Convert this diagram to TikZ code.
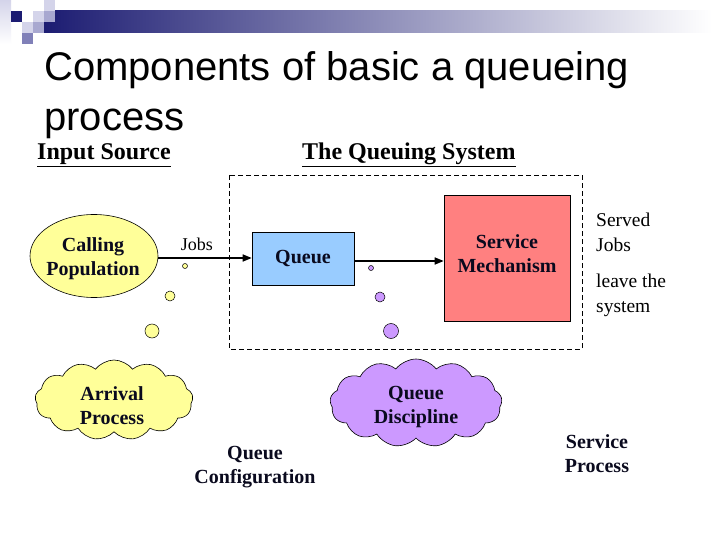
\documentclass[tikz,border=0pt]{standalone}
\usepackage{fontspec}
\setmainfont{Liberation Serif}
\newfontfamily\titlefont{Liberation Sans}
\usetikzlibrary{shapes.symbols,shapes.geometric,arrows.meta}
\definecolor{navyb}{HTML}{1C1C72}
\definecolor{lav1}{HTML}{D4D4EA}
\definecolor{lav2}{HTML}{A8A8D0}
\definecolor{lav3}{HTML}{8080B8}
\definecolor{popyellow}{HTML}{FFFF99}
\definecolor{qblue}{HTML}{99CCFF}
\definecolor{smred}{HTML}{FF8080}
\definecolor{purp}{HTML}{CC99FF}
\definecolor{inkd}{HTML}{0A0A1E}
\tikzset{
  lbl/.style={font=\fontsize{20}{24}\selectfont\bfseries, text=inkd, align=center, inner sep=0pt},
  plain/.style={font=\fontsize{19.5}{25}\selectfont, align=left, inner sep=0pt},
  head/.style={font=\fontsize{24}{28}\selectfont\bfseries, inner sep=0pt},
  flow/.style={line width=1.6pt, -{Triangle[length=9pt,width=7pt]}},
  boxst/.style={draw, line width=0.6pt, inner sep=0pt},
  cloudst/.style={cloud, draw, line width=0.6pt, cloud puffs=13, cloud puff arc=105, aspect=2, inner sep=0pt},
  dot/.style={circle, draw, line width=0.5pt, inner sep=0pt},
}
\begin{document}
\begin{tikzpicture}[x=1pt,y=-1pt]
\useasboundingbox (0,0) rectangle (720,540);
\fill[white] (0,0) rectangle (720,540);
% header decoration
\shade[left color=navyb, right color=white] (44,11) rectangle (712,33);
\shade[top color=lav1, bottom color=white] (0,0) rectangle (11,44);
\fill[navyb] (11,11) rectangle (22,22);
\fill[lav1] (33,11) rectangle (44,22);
\fill[lav1] (44,0) rectangle (55,11);
\fill[lav2] (44,11) rectangle (55,22);
\fill[lav1] (22,22) rectangle (33,33);
\fill[lav2] (33,22) rectangle (44,33);
\fill[lav3] (22,33) rectangle (33,44);
% title
\node[anchor=base west, inner sep=0pt, font=\titlefont\fontsize{40}{46}\selectfont] (title1) at (44,81) {Components of basic a queueing};
\node[anchor=base west, inner sep=0pt, font=\titlefont\fontsize{40}{46}\selectfont] (title2) at (44,131) {process};
% headings
\node[head, anchor=base west] (insrc) at (37,160) {\underline{Input Source}};
\node[head, anchor=base west] (qsys) at (302,160) {\underline{The Queuing System}};
% system boundary
\draw[dashed, line width=0.6pt, dash pattern=on 5pt off 3pt] (229,175) rectangle (582,349);
% nodes
\node[ellipse, draw, line width=0.6pt, fill=popyellow, minimum width=128pt, minimum height=83pt] (pop) at (94,256) {};
\node[lbl] (poptxt) at (93,259) {Calling\\Population};
\node[boxst, fill=qblue, minimum width=102pt, minimum height=53pt, lbl] (queue) at (303,258.5) {Queue};
\node[boxst, fill=smred, minimum width=126pt, minimum height=126pt] (serv) at (507,258) {};
\node[lbl] (servtxt) at (507,254) {Service\\Mechanism};
\draw[flow] (pop.east |- 0,258) coordinate (popr) -- (queue.west |- 0,258);
\draw[flow] (queue.east |- 0,261) -- (serv.west |- 0,261);
\node[font=\fontsize{18}{22}\selectfont, inner sep=0pt] (jobs) at (197,244) {Jobs};
% arriving jobs
\node[dot, fill=popyellow, minimum size=5pt] (a1) at (185,266) {};
\node[dot, fill=popyellow, minimum size=10pt] (a2) at (170,296) {};
\node[dot, fill=popyellow, minimum size=14pt] (a3) at (152,331) {};
% leaving jobs
\node[dot, fill=purp, minimum size=5pt] (b1) at (371,268) {};
\node[dot, fill=purp, minimum size=10pt] (b2) at (380,297) {};
\node[dot, fill=purp, minimum size=15pt] (b3) at (391,331) {};
% served jobs text
\node[plain, anchor=north west] (served) at (596,213) {Served\\Jobs};
\node[plain, anchor=north west] (leave) at (596,274) {leave the\\system};
% clouds
\node[cloudst, fill=popyellow, minimum width=158pt, minimum height=80pt] (arr) at (114,400) {};
\node[lbl] (arrtxt) at (112,406) {Arrival\\Process};
\node[cloudst, fill=purp, minimum width=172pt, minimum height=88pt] (disc) at (416,403) {};
\node[lbl] (disctxt) at (416,407.5) {Queue\\Discipline};
% labels
\node[lbl] (qconf) at (255,467) {Queue\\Configuration};
\node[lbl] (sproc) at (597,454) {Service\\Process};
\end{tikzpicture}
\end{document}
